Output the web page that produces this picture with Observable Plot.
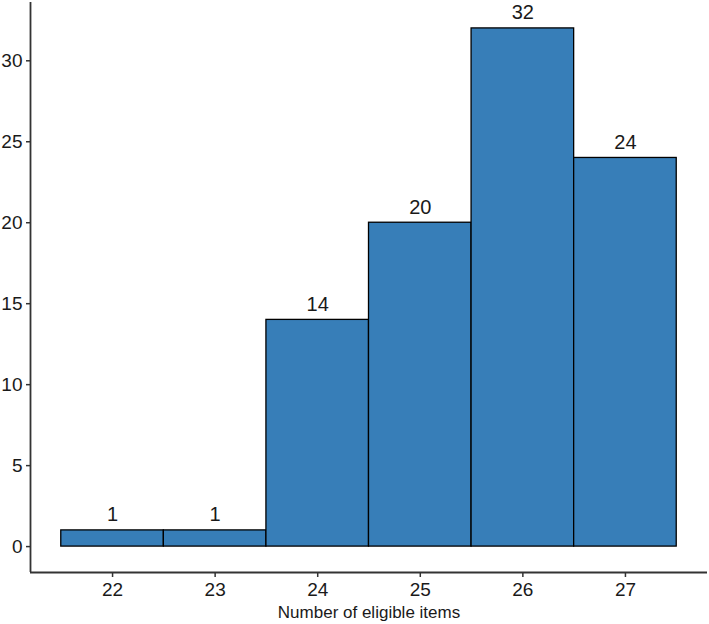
<!DOCTYPE html>
<html>
<head>
<meta charset="utf-8">
<script src="https://cdn.jsdelivr.net/npm/d3@7"></script>
<script src="https://cdn.jsdelivr.net/npm/@observablehq/plot@0.6"></script>
<style>
  html, body { margin: 0; padding: 0; background: #fff; }
  #chart g[aria-label="x-axis tick label"], #chart g[aria-label="y-axis tick label"] { font-size: 19px; }
</style>
</head>
<body>
<div id="chart"></div>
<script>
const bins = [22, 23, 24, 25, 26, 27];
const counts = [1, 1, 14, 20, 32, 24];
const yTicks = [0, 5, 10, 15, 20, 25, 30];
const xLabel = "Number of eligible items";

const data = bins.map((b, i) => ({bin: b, count: counts[i]}));
const xDom = [21.2, 27.8];
const yDom = [-1.6, 33.6];

const chart = Plot.plot({
  width: 709,
  height: 624,
  marginLeft: 30,
  marginRight: 2,
  marginTop: 2,
  marginBottom: 52,
  style: {fontFamily: "'Liberation Sans', Arial, sans-serif", background: "#fff", color: "#1a1a1a", fontSize: "19px"},
  x: {domain: xDom},
  y: {domain: yDom},
  marks: [
    Plot.rect(data, {x1: d => d.bin - 0.5, x2: d => d.bin + 0.5, y1: 0, y2: "count", fill: "#377EB8", stroke: "#000", strokeWidth: 1.3, inset: 0}),
    Plot.text(data, {x: "bin", y: "count", text: d => String(d.count), dy: -9, lineAnchor: "bottom", fontSize: 20, fill: "#1a1a1a"}),
    Plot.axisX({ticks: bins, tickFormat: d => String(d), tickSize: 5, tickPadding: 5, fontSize: 19, label: null, stroke: "#333", strokeWidth: 1.5, color: "#1a1a1a"}),
    Plot.axisY({ticks: yTicks, tickFormat: d => String(d), tickSize: 4, tickPadding: 4, fontSize: 19, label: null, stroke: "#333", strokeWidth: 1.5, color: "#1a1a1a"}),
    Plot.ruleX([xDom[0]], {y1: yDom[0], y2: yDom[1], stroke: "#333", strokeWidth: 1.8}),
    Plot.ruleY([yDom[0]], {x1: xDom[0], x2: xDom[1], stroke: "#333", strokeWidth: 1.8}),
    Plot.text([xLabel], {frameAnchor: "bottom", dy: 40, lineAnchor: "middle", fontSize: 17, fill: "#1a1a1a"})
  ]
});
document.getElementById("chart").appendChild(chart);
</script>
</body>
</html>
